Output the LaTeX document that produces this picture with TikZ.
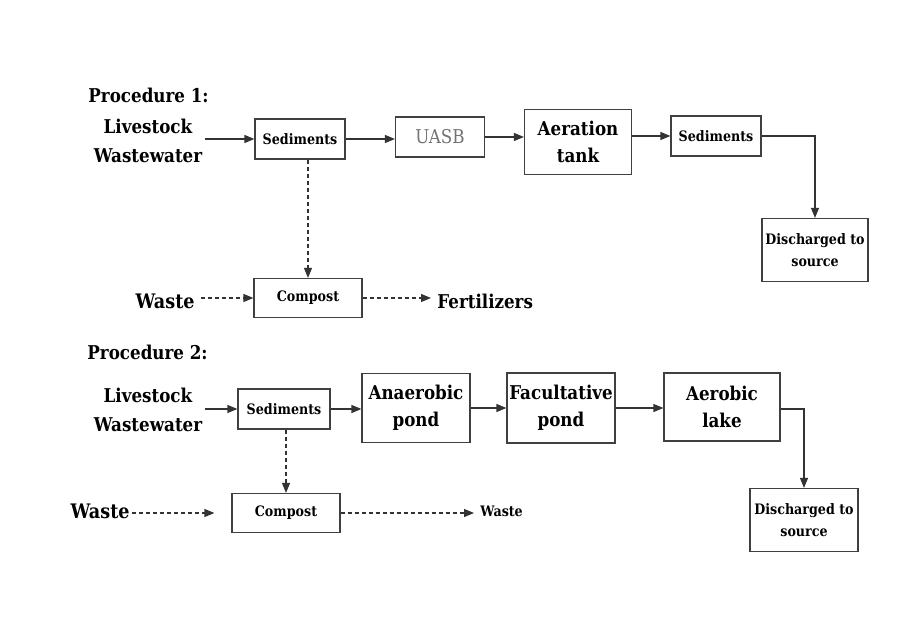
\documentclass[tikz,border=0pt]{standalone}
\usepackage{fontspec}
\setmainfont{DejaVu Serif}[FakeStretch=0.88]
\usetikzlibrary{positioning}
\usetikzlibrary{arrows.meta}

\begin{document}
\begin{tikzpicture}[x=0.5pt, y=-0.5pt]

\def\BoxWidth{45pt}
\def\BoxHeight{20pt}
\def\PondWidth{54pt}
\def\PondHeight{34pt}

% Styles
\tikzstyle{box} =
	[draw=black!75, line width=0.6pt, inner sep=1pt, align=center]

\tikzstyle{small box} =
	[box, minimum width=\BoxWidth, minimum height=\BoxHeight,
	 font=\bfseries\fontsize{7.2}{11}\selectfont]

\tikzstyle{pond box} =
	[box, minimum width=\PondWidth, minimum height=\PondHeight,
	 font=\bfseries\fontsize{9.5}{13.5}\selectfont]

\tikzstyle{plain text} =
	[align=center, inner sep=1pt, font=\bfseries\fontsize{9.5}{14.5}\selectfont]

\tikzstyle{flow} =
	[-{Triangle[length=5pt, width=4pt]}, line width=0.6pt, black!80]

\tikzstyle{side flow} =
	[flow, dash pattern=on 2pt off 1.5pt]

\useasboundingbox (0,0) rectangle (900,636);

% Procedure 1

\node (TitleOne) [plain text, anchor=west] at (86,95) {Procedure 1:};
\node (LivestockOne) [plain text] at (148,141) {Livestock\\Wastewater};
\node (SedimentsOne) [small box] at (300,139) {Sediments};
\node (Uasb) [small box, minimum width=44.5pt, text=black!55,
	font=\fontsize{9.5}{12}\selectfont] at (440,137) {UASB};
\node (AerationTank) [pond box, minimum width=53.5pt, minimum height=32.5pt]
	at (578,142) {Aeration\\tank};
\node (SedimentsTwo) [small box] at (716,136) {Sediments};
\node (DischargedOne) [small box, minimum width=53pt, minimum height=31.5pt]
	at (815,250) {Discharged to\\source};

\node (CompostOne) [small box, minimum width=54pt, minimum height=19.5pt]
	at (308,298) {Compost};
\node (WasteOne) [plain text, font=\bfseries\fontsize{10}{12}\selectfont, anchor=east]
	at (197,301) {Waste};
\node (Fertilizers) [plain text, inner sep=3pt, anchor=west] at (431,301) {Fertilizers};

% Procedure 2

\node (TitleTwo) [plain text, anchor=west] at (85,352) {Procedure 2:};
\node (LivestockTwo) [plain text] at (148,410) {Livestock\\Wastewater};
\node (SedimentsThree) [small box, minimum width=46pt] at (284,409) {Sediments};
\node (AnaerobicPond) [pond box, minimum height=34.5pt] at (416,408) {Anaerobic\\pond};
\node (FacultativePond) [pond box, minimum height=35pt] at (561,408) {Facultative\\pond};
\node (AerobicLake) [pond box, minimum width=58pt] at (722,407) {Aerobic\\lake};
\node (DischargedTwo) [small box, minimum width=54pt, minimum height=31.5pt]
	at (804,520) {Discharged to\\source};

\node (CompostTwo) [small box, minimum width=54pt, minimum height=19.5pt]
	at (286,513) {Compost};
\node (WasteTwo) [plain text, font=\bfseries\fontsize{10}{12}\selectfont, anchor=east]
	at (132,511) {Waste};
\node (WasteThree) [plain text, inner sep=3pt, font=\bfseries\fontsize{7.2}{9}\selectfont,
	anchor=west] at (474,511) {Waste};

% Edges

\path[flow]
	(LivestockOne.east |- SedimentsOne) edge (SedimentsOne)
	(SedimentsOne) edge (SedimentsOne -| Uasb.west)
	(Uasb) edge (Uasb -| AerationTank.west)
	(AerationTank.east |- SedimentsTwo) edge (SedimentsTwo);
\draw[flow] (SedimentsTwo) -| (DischargedOne);

\path[side flow]
	(SedimentsOne.south -| CompostOne) edge (CompostOne)
	([xshift=2pt]WasteOne.east |- CompostOne) edge (CompostOne)
	(CompostOne) edge (Fertilizers.west |- CompostOne);

\path[flow]
	(LivestockTwo.east |- SedimentsThree) edge (SedimentsThree)
	(SedimentsThree) edge (SedimentsThree -| AnaerobicPond.west)
	(AnaerobicPond) edge (FacultativePond)
	(FacultativePond) edge (FacultativePond -| AerobicLake.west);
\draw[flow] (AerobicLake.east |- SedimentsThree) -| (DischargedTwo);

\path[side flow]
	(SedimentsThree.south -| CompostTwo) edge (CompostTwo)
	(WasteTwo.east |- CompostTwo) edge[shorten >=8.5pt] (CompostTwo)
	(CompostTwo) edge (WasteThree.west |- CompostTwo);

\end{tikzpicture}
\end{document}
